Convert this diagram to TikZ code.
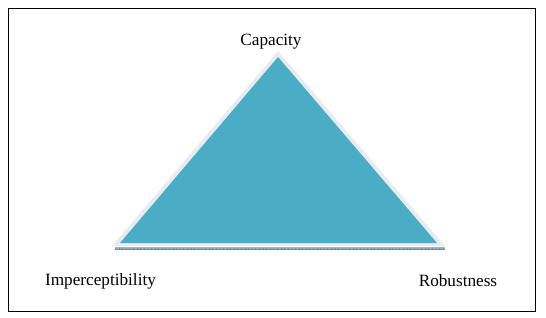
\documentclass[tikz,border=0pt]{standalone}
\usepackage{fontspec}
\setmainfont{Liberation Serif}
\definecolor{aqua}{HTML}{4BACC6}
\definecolor{rim}{HTML}{E8ECEE}
\definecolor{baseband}{HTML}{9CB4BD}
\definecolor{basetick}{HTML}{6F8C98}
\tikzset{
  lbl/.style={font=\fontsize{17.2}{19}\selectfont, inner sep=0pt},
  frame/.style={draw=black, line width=1pt}
}
\begin{document}
\begin{tikzpicture}[x=1pt,y=-1pt]
\useasboundingbox (0,0) rectangle (546,318);
\node[frame, minimum width=527pt, minimum height=302pt, anchor=north west, inner sep=0pt] (box) at (7.5,8.5) {};
% triangle with light rim
\coordinate (apex) at (278,57);
\coordinate (bl) at (120,243);
\coordinate (br) at (437,243);
\fill[rim] (278,51) -- (445,246) -- (112,246) -- cycle;
\fill[aqua] (apex) -- (br) -- (bl) -- cycle;
% hatched base line
\fill[baseband] (115,246.5) rectangle (445,249.5);
\draw[basetick, line width=0.5pt, dash pattern=on 0.6pt off 3pt] (115,248) -- (445,248);
\draw[basetick, line width=0.5pt] (115,249.3) -- (445,249.3);
\node[lbl] (cap) at (271,42) {Capacity};
\node[lbl] (imp) at (100.5,281) {Imperceptibility};
\node[lbl] (rob) at (458,281) {Robustness};
\end{tikzpicture}
\end{document}
